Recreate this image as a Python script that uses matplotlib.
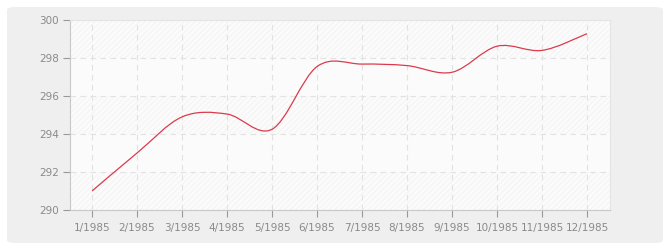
import numpy as np
import matplotlib.pyplot as plt
from matplotlib.path import Path
from matplotlib.patches import PathPatch, FancyBboxPatch

months = [1, 2, 3, 4, 5, 6, 7, 8, 9, 10, 11, 12]
values = [291.0, 293.0, 294.9, 295.05, 294.25, 297.55, 297.68, 297.6, 297.25, 298.62, 298.4, 299.28]
tick_labels = ["%d/1985" % m for m in months]
yticks = [290, 292, 294, 296, 298, 300]


def smooth_path(xs, ys, t=1.0 / 6):
    # catmull-rom style bezier through the data points
    pts = np.column_stack([xs, ys])
    verts = [pts[0]]
    codes = [Path.MOVETO]
    for i in range(len(pts) - 1):
        p0 = pts[i - 1] if i > 0 else pts[i]
        p1 = pts[i]
        p2 = pts[i + 1]
        p3 = pts[i + 2] if i + 2 < len(pts) else pts[i + 1]
        c1 = p1 + (p2 - p0) * t
        c2 = p2 - (p3 - p1) * t
        verts += [c1, c2, p2]
        codes += [Path.CURVE4] * 3
    return Path(verts, codes)


plt.rcParams["hatch.color"] = "#f0f0f0"
plt.rcParams["hatch.linewidth"] = 0.5

fig = plt.figure(figsize=(6.7, 2.5), dpi=100)
fig.patch.set_facecolor("white")
bg = FancyBboxPatch((7 / 670, 7 / 250), 656 / 670, 236 / 250,
                    boxstyle="round,pad=0,rounding_size=0.012",
                    transform=fig.transFigure, facecolor="#efefef",
                    edgecolor="none", zorder=-5)
fig.patches.append(bg)

ax = fig.add_axes([70 / 670, 40 / 250, 540 / 670, 190 / 250])
ax.set_zorder(1)
ax.set_facecolor("#fbfbfb")
for lo in [290, 294, 298]:
    ax.axhspan(lo, lo + 2, facecolor="none", hatch="//////", edgecolor="#f1f1f1",
               linewidth=0, zorder=0)

ax.set_xlim(0.51, 12.51)
ax.set_ylim(290, 300)
ax.set_xticks(months)
ax.set_xticklabels(tick_labels)
ax.set_yticks(yticks)

ax.grid(True, color="#e2e2e2", linestyle=(0, (5, 4)), linewidth=0.8)
ax.set_axisbelow(True)

for side in ["top", "right"]:
    ax.spines[side].set_color("#e4e4e4")
for side in ["left", "bottom"]:
    ax.spines[side].set_color("#c8c8c8")
ax.tick_params(colors="#999999", labelsize=7.5, length=5, width=0.8, pad=3,
               labelcolor="#8a8a8a")
ax.tick_params(axis="x", pad=4)

ax.add_patch(PathPatch(smooth_path(months, values), facecolor="none",
                       edgecolor="#dc3a4c", linewidth=0.9, zorder=3))

fig.savefig("out.png", dpi=100)
